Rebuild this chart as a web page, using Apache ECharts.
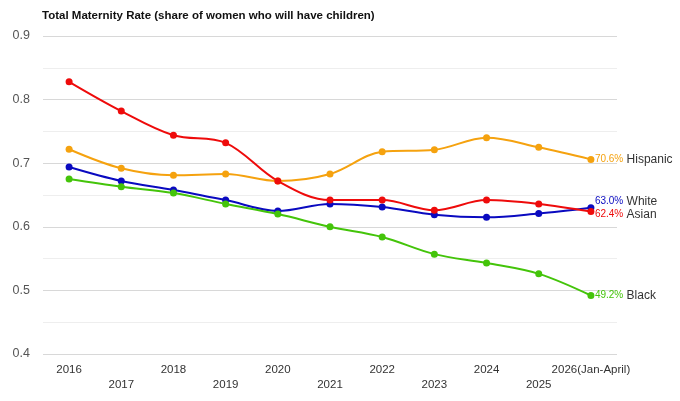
<!DOCTYPE html>
<html>
<head>
    <meta charset="utf-8">
    <script src="https://cdn.jsdelivr.net/npm/echarts@6/dist/echarts.min.js"></script>
    <style type="text/css">
        html, body { margin: 0; padding: 0; background: #fff; }
        #main { width: 680px; height: 401px; }
    </style>
</head>
<body>
    <div id="main"></div>
    <script>
        const years = ['2016', '2017', '2018', '2019', '2020', '2021', '2022', '2023', '2024', '2025', '2026(Jan-April)'];
        const yTicks = [0.4, 0.5, 0.6, 0.7, 0.8, 0.9];

        const hispanic = [0.722, 0.692, 0.681, 0.683, 0.672, 0.683, 0.718, 0.721, 0.740, 0.725, 0.706];
        const white    = [0.694, 0.672, 0.658, 0.642, 0.625, 0.636, 0.631, 0.619, 0.615, 0.621, 0.630];
        const asian    = [0.828, 0.782, 0.744, 0.732, 0.672, 0.642, 0.642, 0.626, 0.642, 0.636, 0.624];
        const black    = [0.675, 0.663, 0.653, 0.636, 0.620, 0.600, 0.584, 0.557, 0.543, 0.526, 0.492];

        const font = '"Liberation Sans", Arial, sans-serif';
        const myChart = echarts.init(document.getElementById('main'));

        // one line series with a "value% Name" label at its end
        function line(name, data, color, dy) {
            return {
                name: name,
                type: 'line',
                data: data,
                smooth: 0.35,
                symbol: 'circle',
                symbolSize: 7,
                lineStyle: { color: color, width: 2 },
                itemStyle: { color: color },
                endLabel: {
                    show: true,
                    distance: 4,
                    offset: [0, dy],
                    formatter: p => `{v|${(p.value * 100).toFixed(1)}%} {n|${name}}`,
                    rich: {
                        v: { color: color, fontSize: 10, fontFamily: font },
                        n: { color: '#333', fontSize: 12, fontFamily: font }
                    }
                }
            };
        }

        myChart.setOption({
            animation: false,
            title: {
                text: 'Total Maternity Rate (share of women who will have children)',
                left: 37,
                top: 5,
                textStyle: { fontSize: 11.5, fontWeight: 'bold', color: '#111', fontFamily: font }
            },
            grid: { left: 43, right: 63, top: 36, bottom: 47 },
            xAxis: {
                type: 'category',
                data: years,
                boundaryGap: true,
                axisLine: { show: false },
                axisTick: { show: false },
                axisLabel: {
                    interval: 0,
                    margin: 8,
                    color: '#333',
                    fontSize: 11.5,
                    fontFamily: font,
                    lineHeight: 15,
                    formatter: (v, i) => (i % 2 ? '\n' + v : v)
                }
            },
            yAxis: {
                type: 'value',
                min: yTicks[0],
                max: yTicks[yTicks.length - 1],
                interval: 0.1,
                axisLine: { show: false },
                axisTick: { show: false },
                axisLabel: { color: '#555', fontSize: 12.5, fontFamily: font, margin: 13 },
                splitLine: { lineStyle: { color: '#d8d8d8' } },
                minorTick: { show: false, splitNumber: 2 },
                minorSplitLine: { show: true, lineStyle: { color: '#eeeeee' } }
            },
            series: [
                line('Hispanic', hispanic, '#f5a20f', 0),
                line('White', white, '#0a0ac0', -6),
                line('Asian', asian, '#ee0b0b', 3),
                line('Black', black, '#44c40a', 0)
            ]
        });
    </script>
</body>
</html>
